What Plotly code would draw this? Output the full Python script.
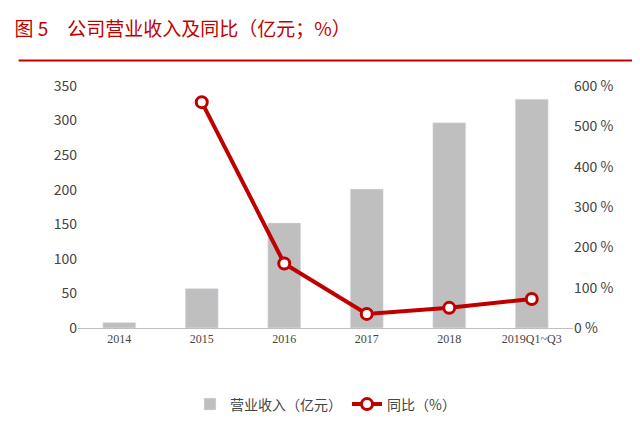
import plotly.graph_objects as go

categories = ["2014", "2015", "2016", "2017", "2018", "2019Q1~Q3"]
revenue = [8, 57, 152, 201, 297, 331]
yoy_cats = ["2015", "2016", "2017", "2018", "2019Q1~Q3"]
yoy = [560, 160, 35, 50, 72]

fig = go.Figure()
fig.add_bar(x=categories, y=revenue, name="营业收入（亿元）", marker_color="#BFBFBF", width=0.4)
fig.add_scatter(x=yoy_cats, y=yoy, name="同比（%）", yaxis="y2", mode="lines+markers",
                line=dict(color="#C00000", width=4),
                marker=dict(size=11, color="white", line=dict(color="#C00000", width=3)))
fig.update_layout(
    width=640, height=425, paper_bgcolor="white", plot_bgcolor="white",
    font=dict(family="Noto Sans CJK SC", size=13, color="#444"),
    margin=dict(l=70, r=75, t=78, b=103),
    title=dict(text="图 5　公司营业收入及同比（亿元；%）", x=0.01, y=0.965, xanchor="left",
               font=dict(size=19, color="#C00000")),
    shapes=[dict(type="line", xref="paper", yref="paper", x0=-0.12, x1=1.15, y0=1.105, y1=1.105,
                 line=dict(color="#C00000", width=2))],
    xaxis=dict(showline=True, linecolor="#BFBFBF", tickfont=dict(family="Liberation Serif", size=12)),
    yaxis=dict(range=[0, 350], dtick=50, showgrid=False, tickfont=dict(size=14)),
    yaxis2=dict(range=[0, 600], dtick=100, overlaying="y", side="right", showgrid=False,
                ticksuffix=" %", tickfont=dict(size=14)),
    legend=dict(orientation="h", x=0.5, xanchor="center", y=-0.25, font=dict(size=14)),
)
fig.write_html("out.html")
